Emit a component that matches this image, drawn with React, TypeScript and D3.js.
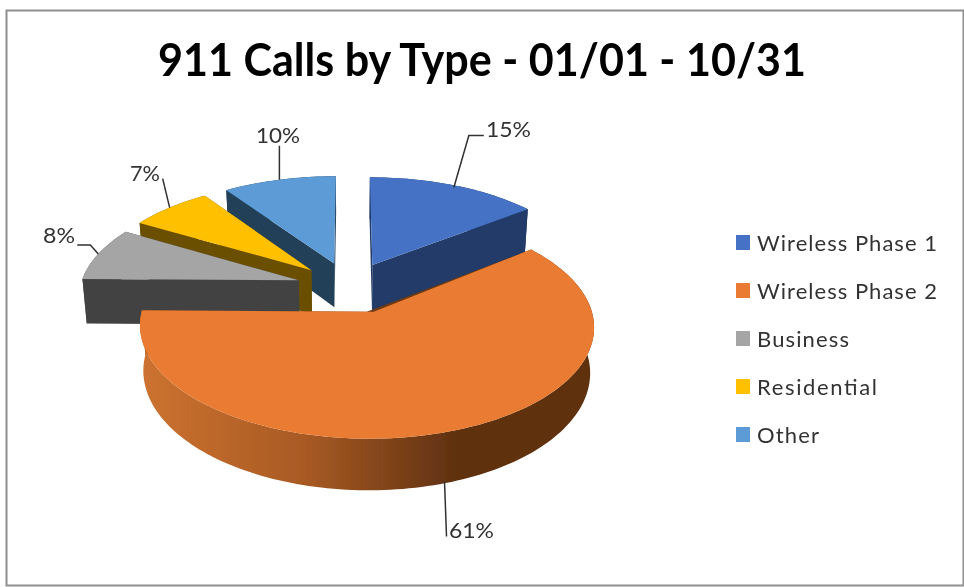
import React from "react";
import * as d3 from "d3";

const categories = ["Wireless Phase 1", "Wireless Phase 2", "Business", "Residential", "Other"];
const values = [14.6, 60.6, 8.2, 7.0, 9.6];
const percentLabels = ["15%", "61%", "8%", "7%", "10%"];
const topColors = ["#4472C4", "#E97B30", "#A5A5A5", "#FFC000", "#5B9BD5"];
const wallColors = ["#223A67", "#6A3A14", "#434343", "#6B5000", "#233F59"];
const drawOrder = [4, 3, 2, 0, 1];
const title = "911 Calls by Type - 01/01 - 10/31";

const W = 964, H = 587;
const cx = 349.5, cy = 287, S = 218.5, T = 104, K = 0.127, EXPLODE = 0.243, NARROW = 0.984;
const sliceDepth = [47.5, 43.5, 45, 45, 45];

const xScale = d3.scaleLinear().domain([0, 1]).range([0, S]);
const zScale = d3.scaleLinear().domain([0, 1]).range([0, T]);

type P = [number, number];
function project(X: number, Z: number, depth = 0): P {
  const w = 1 / (1 + K * Z);
  const dx = xScale(X) * w * (depth ? NARROW : 1);
  const dy = -zScale(Z) * w + depth * w;
  return [cx + dx, cy + dy];
}

const pie = d3.pie<number>().sort(null).value((d) => d);
const arcs = pie(values);
const line = d3.line<P>();

function rimPoint(i: number, a: number, bottom = false): P {
  const mid = (arcs[i].startAngle + arcs[i].endAngle) / 2;
  return project(Math.sin(a) + EXPLODE * Math.sin(mid), Math.cos(a) + EXPLODE * Math.cos(mid), bottom ? sliceDepth[i] : 0);
}
function apex(i: number, bottom = false): P {
  const mid = (arcs[i].startAngle + arcs[i].endAngle) / 2;
  return project(EXPLODE * Math.sin(mid), EXPLODE * Math.cos(mid), bottom ? sliceDepth[i] : 0);
}
function rim(i: number, a0: number, a1: number, bottom = false): P[] {
  const n = Math.max(8, Math.ceil(Math.abs(a1 - a0) * 40));
  return d3.range(n + 1).map((k) => rimPoint(i, a0 + ((a1 - a0) * k) / n, bottom));
}

// layout: apex nudge, leader anchor nudge, leader elbows and label placement
const apexNudge = [0, 7, 0, 0, 0];
const anchorNudge: P[] = [[-1, 2], [-4, -1], [0, 0], [0, 0], [0, 0]];
const leaderOffsets: P[][] = [
  [[15, -52], [30, -52]],
  [[2, 55]],
  [[-8, -9], [-21, -9]],
  [[-7, -29]],
  [[0, -34]],
];
const labelX = [486, 449, 43, 130, 256];
const labelY = [137, 538, 243, 181, 143];
const labelWidth = [45, 45, 32, 30, 44];
const legendWidth = [180, 180, 92, 120, 62];

export default function App() {
  return (
    <svg width={W} height={H} viewBox={`0 0 ${W} ${H}`} style={{ position: "absolute", left: 0, top: 0, background: "#fff" }}>
      <defs>
        <linearGradient id="rimGrad" gradientUnits="userSpaceOnUse" x1="145" x2="590" y1="0" y2="0">
          <stop offset="0" stopColor="#CC7230" />
          <stop offset="0.36" stopColor="#A85A24" />
          <stop offset="0.7" stopColor="#5F3110" />
          <stop offset="1" stopColor="#5F3110" />
        </linearGradient>
        <filter id="soft" x="0" y="0" width="100%" height="100%" filterUnits="objectBoundingBox">
          <feGaussianBlur stdDeviation="0.5" />
        </filter>
      </defs>
      <rect x={6.5} y={10.5} width={957} height={575} fill="#fff" stroke="#8f8f8f" strokeWidth={2} />
      <g filter="url(#soft)">
        <rect x={8} y={12} width={954} height={572} fill="#fff" />
        <text x={158} y={76} textLength={648} lengthAdjust="spacingAndGlyphs" fontFamily="Lato" fontWeight={700} fontSize={46} fill="#000">{title}</text>

        {drawOrder.map((i) => {
          const { startAngle: a0, endAngle: a1 } = arcs[i];
          const isBig = i === 1;
          const ap = apex(i);
          const top = [[ap[0] + apexNudge[i], ap[1]] as P, ...rim(i, a0, a1)];
          const wallA = [apex(i), rimPoint(i, a0), rimPoint(i, a0, true), apex(i, true)];
          const wallB = [apex(i), rimPoint(i, a1), rimPoint(i, a1, true), apex(i, true)];
          const outer = [...rim(i, a0, a1), ...rim(i, a1, a0, true)];
          return (
            <g key={i}>
              <path d={line(wallB) + "Z"} fill={wallColors[i]} />
              <path d={line(wallA) + "Z"} fill={wallColors[i]} />
              <path d={line(outer) + "Z"} fill={isBig ? "url(#rimGrad)" : wallColors[i]} />
              <path d={line(top) + "Z"} fill={topColors[i]} />
            </g>
          );
        })}

        {arcs.map((arc, i) => {
          const mid = (arc.startAngle + arc.endAngle) / 2;
          const r = rimPoint(i, mid, i === 1);
          const start: P = [r[0] + anchorNudge[i][0], r[1] + anchorNudge[i][1]];
          const pts: P[] = [start, ...leaderOffsets[i].map(([dx, dy]) => [start[0] + dx, start[1] + dy] as P)];
          return <path key={i} d={line(pts)!} fill="none" stroke="#303030" strokeWidth={1.5} />;
        })}
        {percentLabels.map((t, i) => (
          <text key={t} x={labelX[i]} y={labelY[i]} textLength={labelWidth[i]} lengthAdjust="spacingAndGlyphs" fontFamily="Lato" fontSize={22} fill="#333">{t}</text>
        ))}

        {categories.map((c, i) => (
          <g key={c}>
            <rect x={736} y={235 + i * 48} width={14} height={15} fill={topColors[i]} />
            <text x={757} y={251 + i * 48} textLength={legendWidth[i]} lengthAdjust="spacing" fontFamily="Lato" fontSize={22} fill="#333">{c}</text>
          </g>
        ))}
      </g>
    </svg>
  );
}
